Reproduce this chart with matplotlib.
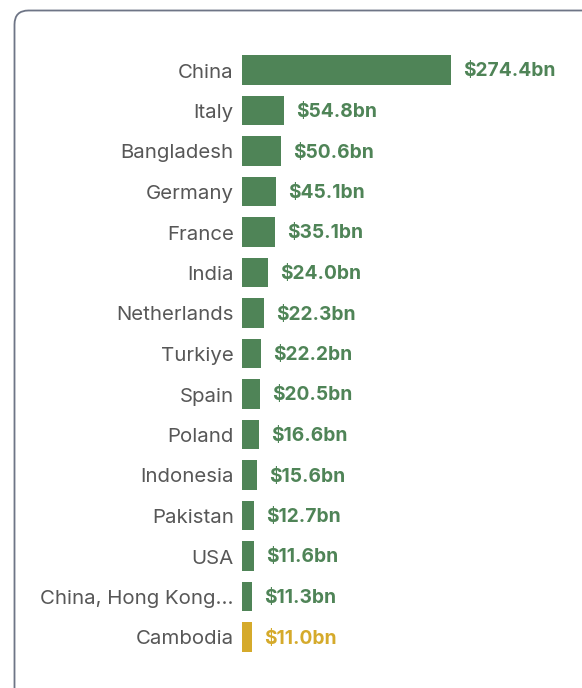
import matplotlib
matplotlib.use("Agg")
import matplotlib.pyplot as plt
from matplotlib.patches import FancyBboxPatch
from matplotlib.transforms import IdentityTransform, offset_copy

countries = ["China", "Italy", "Bangladesh", "Germany", "France", "India", "Netherlands",
             "Turkiye", "Spain", "Poland", "Indonesia", "Pakistan", "USA",
             "China, Hong Kong...", "Cambodia"]
# values shown in the labels (US$ bn)
values = [274.4, 54.8, 50.6, 45.1, 35.1, 24.0, 22.3, 22.2, 20.5, 16.6, 15.6, 12.7, 11.6, 11.3, 11.0]
# bar lengths as drawn in the picture (same units)
bar_lengths = [274.4, 55.1, 51.2, 44.6, 43.3, 34.1, 28.5, 24.9, 23.6, 21.9, 19.7, 15.4, 15.4, 13.1, 13.1]
highlight = "Cambodia"

GREEN = "#4f8457"
GOLD = "#d5aa2b"

W, H = 582, 688
fig = plt.figure(figsize=(W / 100, H / 100), dpi=100)

border = FancyBboxPatch((14.5, -40), 600, H - 10.5 + 40,
                        boxstyle="round,pad=0,rounding_size=14",
                        transform=IdentityTransform(), fill=False,
                        edgecolor="#6e7586", linewidth=1.3)
fig.patches.append(border)

ax_left, ax_right = 242, 560
row_h = 40.5
top_c = 70
ax_top = top_c - row_h / 2
ax_bot = ax_top + row_h * len(countries)
ax = fig.add_axes([ax_left / W, 1 - ax_bot / H, (ax_right - ax_left) / W, (ax_bot - ax_top) / H])
scale = 209 / 274.4
ax.set_xlim(0, (ax_right - ax_left) / scale)
ax.set_ylim(len(countries) - 0.5, -0.5)

colors = [GOLD if c == highlight else GREEN for c in countries]
ypos = list(range(len(countries)))
ax.barh(ypos, bar_lengths, height=0.72, color=colors)

for y, b, v, c in zip(ypos, bar_lengths, values, colors):
    ax.annotate(f"${v:.1f}bn", (b, y), xytext=(12, -1.5), textcoords="offset pixels",
                va="center", ha="left", fontsize=13.8, fontweight="bold",
                color=c, family="Inter")

ax.set_yticks(ypos)
ax.set_yticklabels(countries, fontsize=14.7, color="#575757", family="Inter")
ax.tick_params(axis="y", length=0, pad=6)
for lbl in ax.get_yticklabels():
    lbl.set_transform(offset_copy(lbl.get_transform(), fig=fig, x=0, y=-0.5, units="dots"))
ax.set_xticks([])
for s in ax.spines.values():
    s.set_visible(False)
ax.patch.set_visible(False)

fig.savefig("out.png", dpi=100, facecolor="white")
